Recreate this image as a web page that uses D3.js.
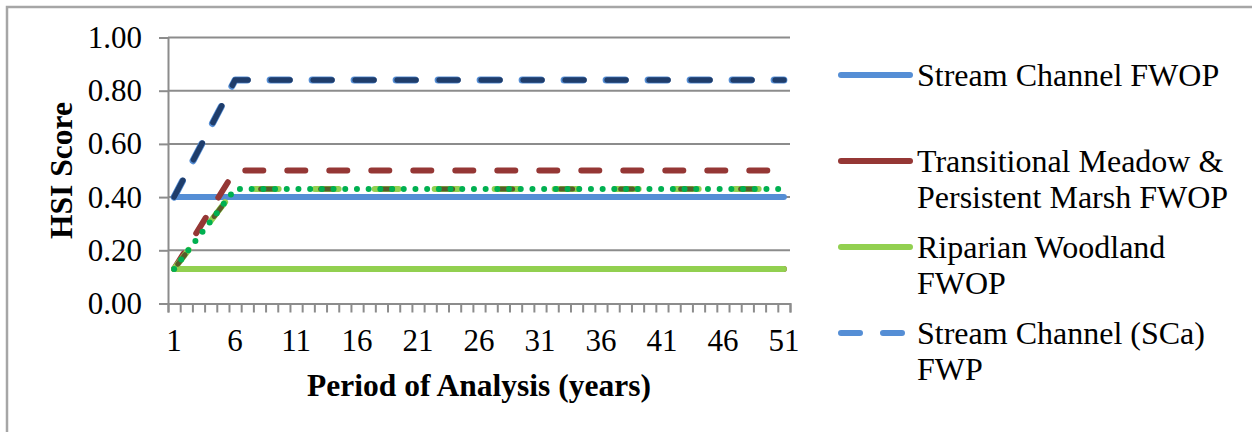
<!DOCTYPE html>
<html>
<head>
<meta charset="utf-8">
<script src="https://cdn.jsdelivr.net/npm/d3@7/dist/d3.min.js"></script>
<style>
  html, body { margin: 0; padding: 0; background: #fff; }
  svg { display: block; }
  text { font-family: "Liberation Serif", "Times New Roman", serif; fill: #000; }
</style>
</head>
<body>
<svg id="chart" width="1252" height="432"></svg>
<script>
// ---------- DATA ----------
const years = [1, 6, 51];                       // years where the series change slope
const xTickLabels = [1, 6, 11, 16, 21, 26, 31, 36, 41, 46, 51];
const yTickValues = [0, 0.2, 0.4, 0.6, 0.8, 1.0];

const streamChannelFWOP   = [0.40, 0.40, 0.40];
const transMeadowFWOP     = [0.13, 0.13, 0.13];
const riparianFWOP        = [0.13, 0.13, 0.13];
const streamChannelSCaFWP = [0.40, 0.84, 0.84];
const streamChannelSCbFWP = [0.40, 0.84, 0.84];
const transMeadowFWP      = [0.13, 0.50, 0.50];
const riparianFWPa        = [0.13, 0.43, 0.43];
const riparianFWPb        = [0.13, 0.43, 0.43];
const riparianFWPc        = [0.13, 0.43, 0.43];

const legendNames = [
  ["Stream Channel FWOP"],
  ["Transitional Meadow &", "Persistent Marsh FWOP"],
  ["Riparian Woodland", "FWOP"],
  ["Stream Channel (SCa)", "FWP"]
];

// ---------- LAYOUT ----------
const svg = d3.select("#chart");
const plot = { left: 168, right: 790, top: 37.5, bottom: 303.5 };

// outer border
svg.append("rect").attr("x", 7).attr("y", 7).attr("width", 1270).attr("height", 440)
  .attr("fill", "none").attr("stroke", "#a6a6a6").attr("stroke-width", 2.5);

const x = d3.scaleLinear().domain([0.5, 51.5]).range([plot.left, plot.right]);
const y = d3.scaleLinear().domain([0, 1]).range([plot.bottom, plot.top]);

const gridColor = "#8c8c8c";

// gridlines
svg.append("g").selectAll("line").data(yTickValues.filter(v => v > 0)).join("line")
  .attr("x1", plot.left).attr("x2", plot.right)
  .attr("y1", d => y(d)).attr("y2", d => y(d))
  .attr("stroke", gridColor).attr("stroke-width", 2);

// y axis
const yAxis = d3.axisLeft(y).tickValues(yTickValues).tickSize(9).tickPadding(17)
  .tickFormat(d3.format(".2f"));
const gy = svg.append("g").attr("transform", `translate(${plot.left},0)`).call(yAxis);
gy.select(".domain").attr("stroke", gridColor).attr("stroke-width", 2);
gy.selectAll(".tick line").attr("stroke", gridColor).attr("stroke-width", 2);
gy.selectAll(".tick text").style("font-family", "Liberation Serif").style("font-size", "31px")
  .attr("fill", "#000");

// x axis (category boundaries as ticks)
const boundaries = d3.range(0, 52).map(i => i + 0.5);
const xAxis = d3.axisBottom(x).tickValues(boundaries).tickSize(9).tickFormat("");
const gx = svg.append("g").attr("transform", `translate(0,${plot.bottom})`).call(xAxis);
gx.select(".domain").attr("stroke", gridColor).attr("stroke-width", 2);
gx.selectAll(".tick line").attr("stroke", gridColor).attr("stroke-width", 2);

svg.append("g").selectAll("text").data(xTickLabels).join("text")
  .attr("x", d => x(d)).attr("y", 351)
  .attr("text-anchor", "middle").style("font-size", "31px")
  .text(d => d);

// axis titles
svg.append("text").attr("x", (plot.left + plot.right) / 2).attr("y", 396)
  .attr("text-anchor", "middle").style("font-size", "31.5px").style("font-weight", "bold")
  .text("Period of Analysis (years)");
svg.append("text").attr("transform", `translate(72,${(plot.top + plot.bottom) / 2}) rotate(-90)`)
  .attr("text-anchor", "middle").style("font-size", "31.5px").style("font-weight", "bold")
  .text("HSI Score");

// ---------- SERIES ----------
const line = d3.line().x(d => x(d[0])).y(d => y(d[1]));
const pts = vals => years.map((yr, i) => [yr, vals[i]]);

const series = [
  { v: streamChannelFWOP,   c: "#558ed5", w: 6, dash: null },
  { v: transMeadowFWOP,     c: "#953735", w: 6, dash: null },
  { v: riparianFWOP,        c: "#92d050", w: 6, dash: null },
  { v: streamChannelSCaFWP, c: "#558ed5", w: 7, dash: "19,23", off: 1 },
  { v: streamChannelSCbFWP, c: "#1f3d6b", w: 5.5, dash: "19,23", off: 0 },
  { v: transMeadowFWP,      c: "#953735", w: 6, dash: "18,24", off: 0 },
  { v: riparianFWPa,        c: "#92d050", w: 6, dash: "24,36", off: 0 },
  { v: riparianFWPb,        c: "#5a5a2a", w: 5, dash: "12,48", off: -6 },
  { v: riparianFWPc,        c: "#00b050", w: 6, dash: "0,11.7", off: 0 }
];

svg.append("g").selectAll("path").data(series).join("path")
  .attr("d", d => line(pts(d.v)))
  .attr("fill", "none")
  .attr("stroke", d => d.c)
  .attr("stroke-width", d => d.w)
  .attr("stroke-linecap", "round")
  .attr("stroke-linejoin", "round")
  .attr("stroke-dasharray", d => d.dash)
  .attr("stroke-dashoffset", d => d.off || 0);

// ---------- LEGEND ----------
const legendStyles = [
  { c: "#558ed5", dash: null },
  { c: "#953735", dash: null },
  { c: "#92d050", dash: null },
  { c: "#558ed5", dash: "19,23" }
];
const lg = svg.append("g");
legendNames.forEach((names, i) => {
  const yy = 75 + 86 * i;
  lg.append("line").attr("x1", 841).attr("x2", 910).attr("y1", yy).attr("y2", yy)
    .attr("stroke", legendStyles[i].c).attr("stroke-width", 6)
    .attr("stroke-linecap", "round")
    .attr("stroke-dasharray", legendStyles[i].dash);
  names.forEach((t, j) => {
    lg.append("text").attr("x", 917).attr("y", yy + 36 * j + 10.5)
      .style("font-size", "32px").text(t);
  });
});
</script>
</body>
</html>
